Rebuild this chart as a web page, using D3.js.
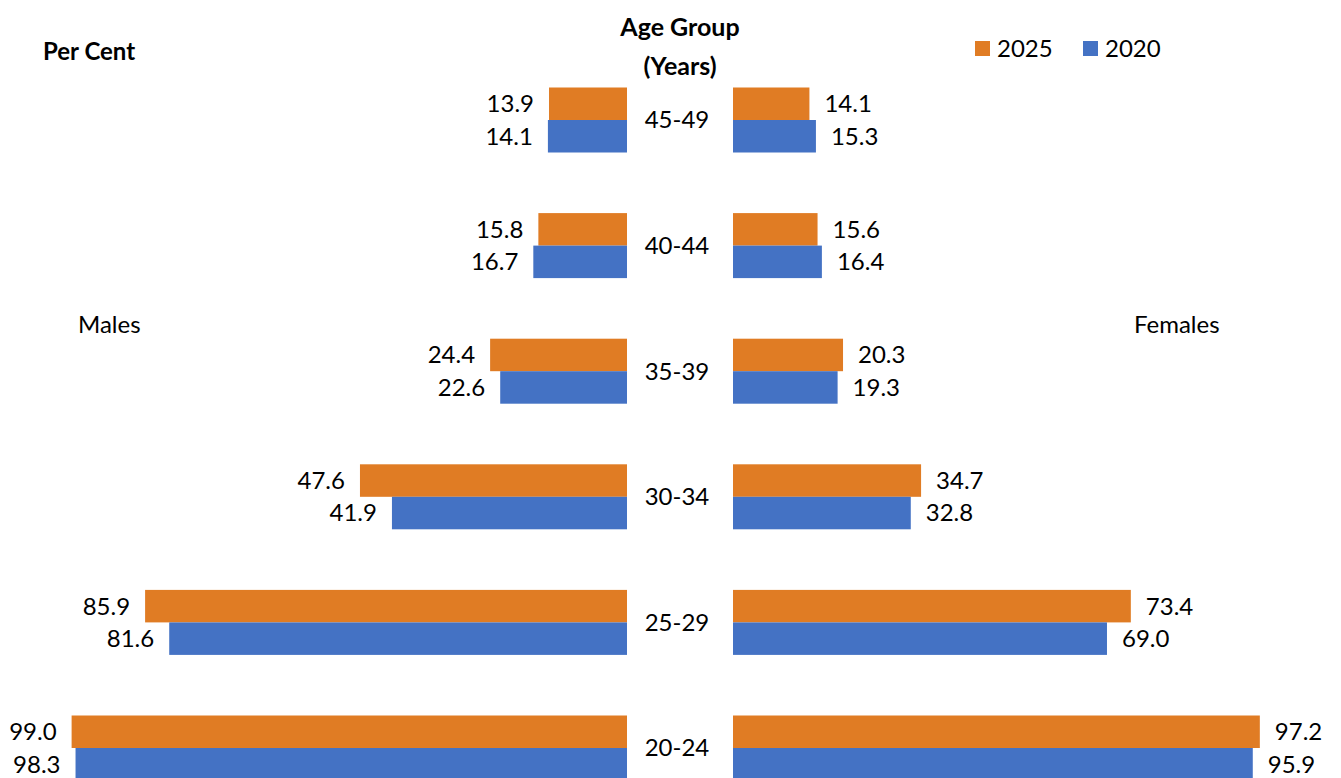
<!DOCTYPE html>
<html><head><meta charset="utf-8">
<script src="https://cdn.jsdelivr.net/npm/d3@7"></script>
<style>
html,body{margin:0;padding:0;background:#fff;overflow:hidden}
text{font-family:Lato,"Open Sans",sans-serif;fill:#000}
</style></head>
<body><svg id="c" width="1341" height="778"></svg>
<script>
const categories = ["45-49","40-44","35-39","30-34","25-29","20-24"];
const males2025 = [13.9,15.8,24.4,47.6,85.9,99.0];
const males2020 = [14.1,16.7,22.6,41.9,81.6,98.3];
const females2025 = [14.1,15.6,20.3,34.7,73.4,97.2];
const females2020 = [15.3,16.4,19.3,32.8,69.0,95.9];
const seriesNames = ["2025","2020"];
const colors = {"2025":"#E07C24","2020":"#4472C4"};

const svg = d3.select("#c");
const y = d3.scalePoint().domain(categories).range([120,748]);
const xM = d3.scaleLinear().domain([0,100]).range([627,66]);
const xF = d3.scaleLinear().domain([0,100]).range([733,1275]);
const bh = 32.5;
const fs = 24;

const rows = categories.map((c,i)=>({c,m25:males2025[i],m20:males2020[i],f25:females2025[i],f20:females2020[i]}));

function bars(key, xs, off, col, side){
  svg.append("g").selectAll("rect").data(rows).join("rect")
    .attr("x", d => side<0 ? xs(d[key]) : xs(0))
    .attr("width", d => Math.abs(xs(d[key])-xs(0)))
    .attr("y", d => y(d.c)+off)
    .attr("height", bh)
    .attr("fill", col);
  svg.append("g").selectAll("text").data(rows).join("text")
    .attr("x", d => xs(d[key]) + (side<0 ? -15 : 15))
    .attr("y", d => y(d.c)+off+bh/2)
    .attr("dy","0.35em")
    .attr("text-anchor", side<0 ? "end" : "start")
    .attr("font-size", fs)
    .text(d => d[key].toFixed(1));
}
bars("m25", xM, -bh, colors["2025"], -1);
bars("m20", xM, 0, colors["2020"], -1);
bars("f25", xF, -bh, colors["2025"], 1);
bars("f20", xF, 0, colors["2020"], 1);

svg.append("g").selectAll("text").data(categories).join("text")
  .attr("x",677).attr("y",d=>y(d)).attr("dy","0.35em")
  .attr("text-anchor","middle").attr("font-size",fs).text(d=>d);

svg.append("text").attr("x",680).attr("y",27).attr("dy","0.35em").attr("text-anchor","middle")
  .attr("font-size",25).attr("font-weight","bold").text("Age Group");
svg.append("text").attr("x",680).attr("y",66).attr("dy","0.35em").attr("text-anchor","middle")
  .attr("font-size",25).attr("font-weight","bold").text("(Years)");
svg.append("text").attr("x",43).attr("y",52).attr("dy","0.35em")
  .attr("font-size",24).attr("font-weight","bold").text("Per Cent");
svg.append("text").attr("x",78).attr("y",325).attr("dy","0.35em")
  .attr("font-size",fs).text("Males");
svg.append("text").attr("x",1134).attr("y",325).attr("dy","0.35em")
  .attr("font-size",fs).text("Females");

const lx = [975,1083];
seriesNames.forEach((s,i)=>{
  svg.append("rect").attr("x",lx[i]).attr("y",41).attr("width",15).attr("height",15).attr("fill",colors[s]);
  svg.append("text").attr("x",lx[i]+22).attr("y",48.5).attr("dy","0.35em").attr("font-size",fs).text(s);
});
</script></body></html>
